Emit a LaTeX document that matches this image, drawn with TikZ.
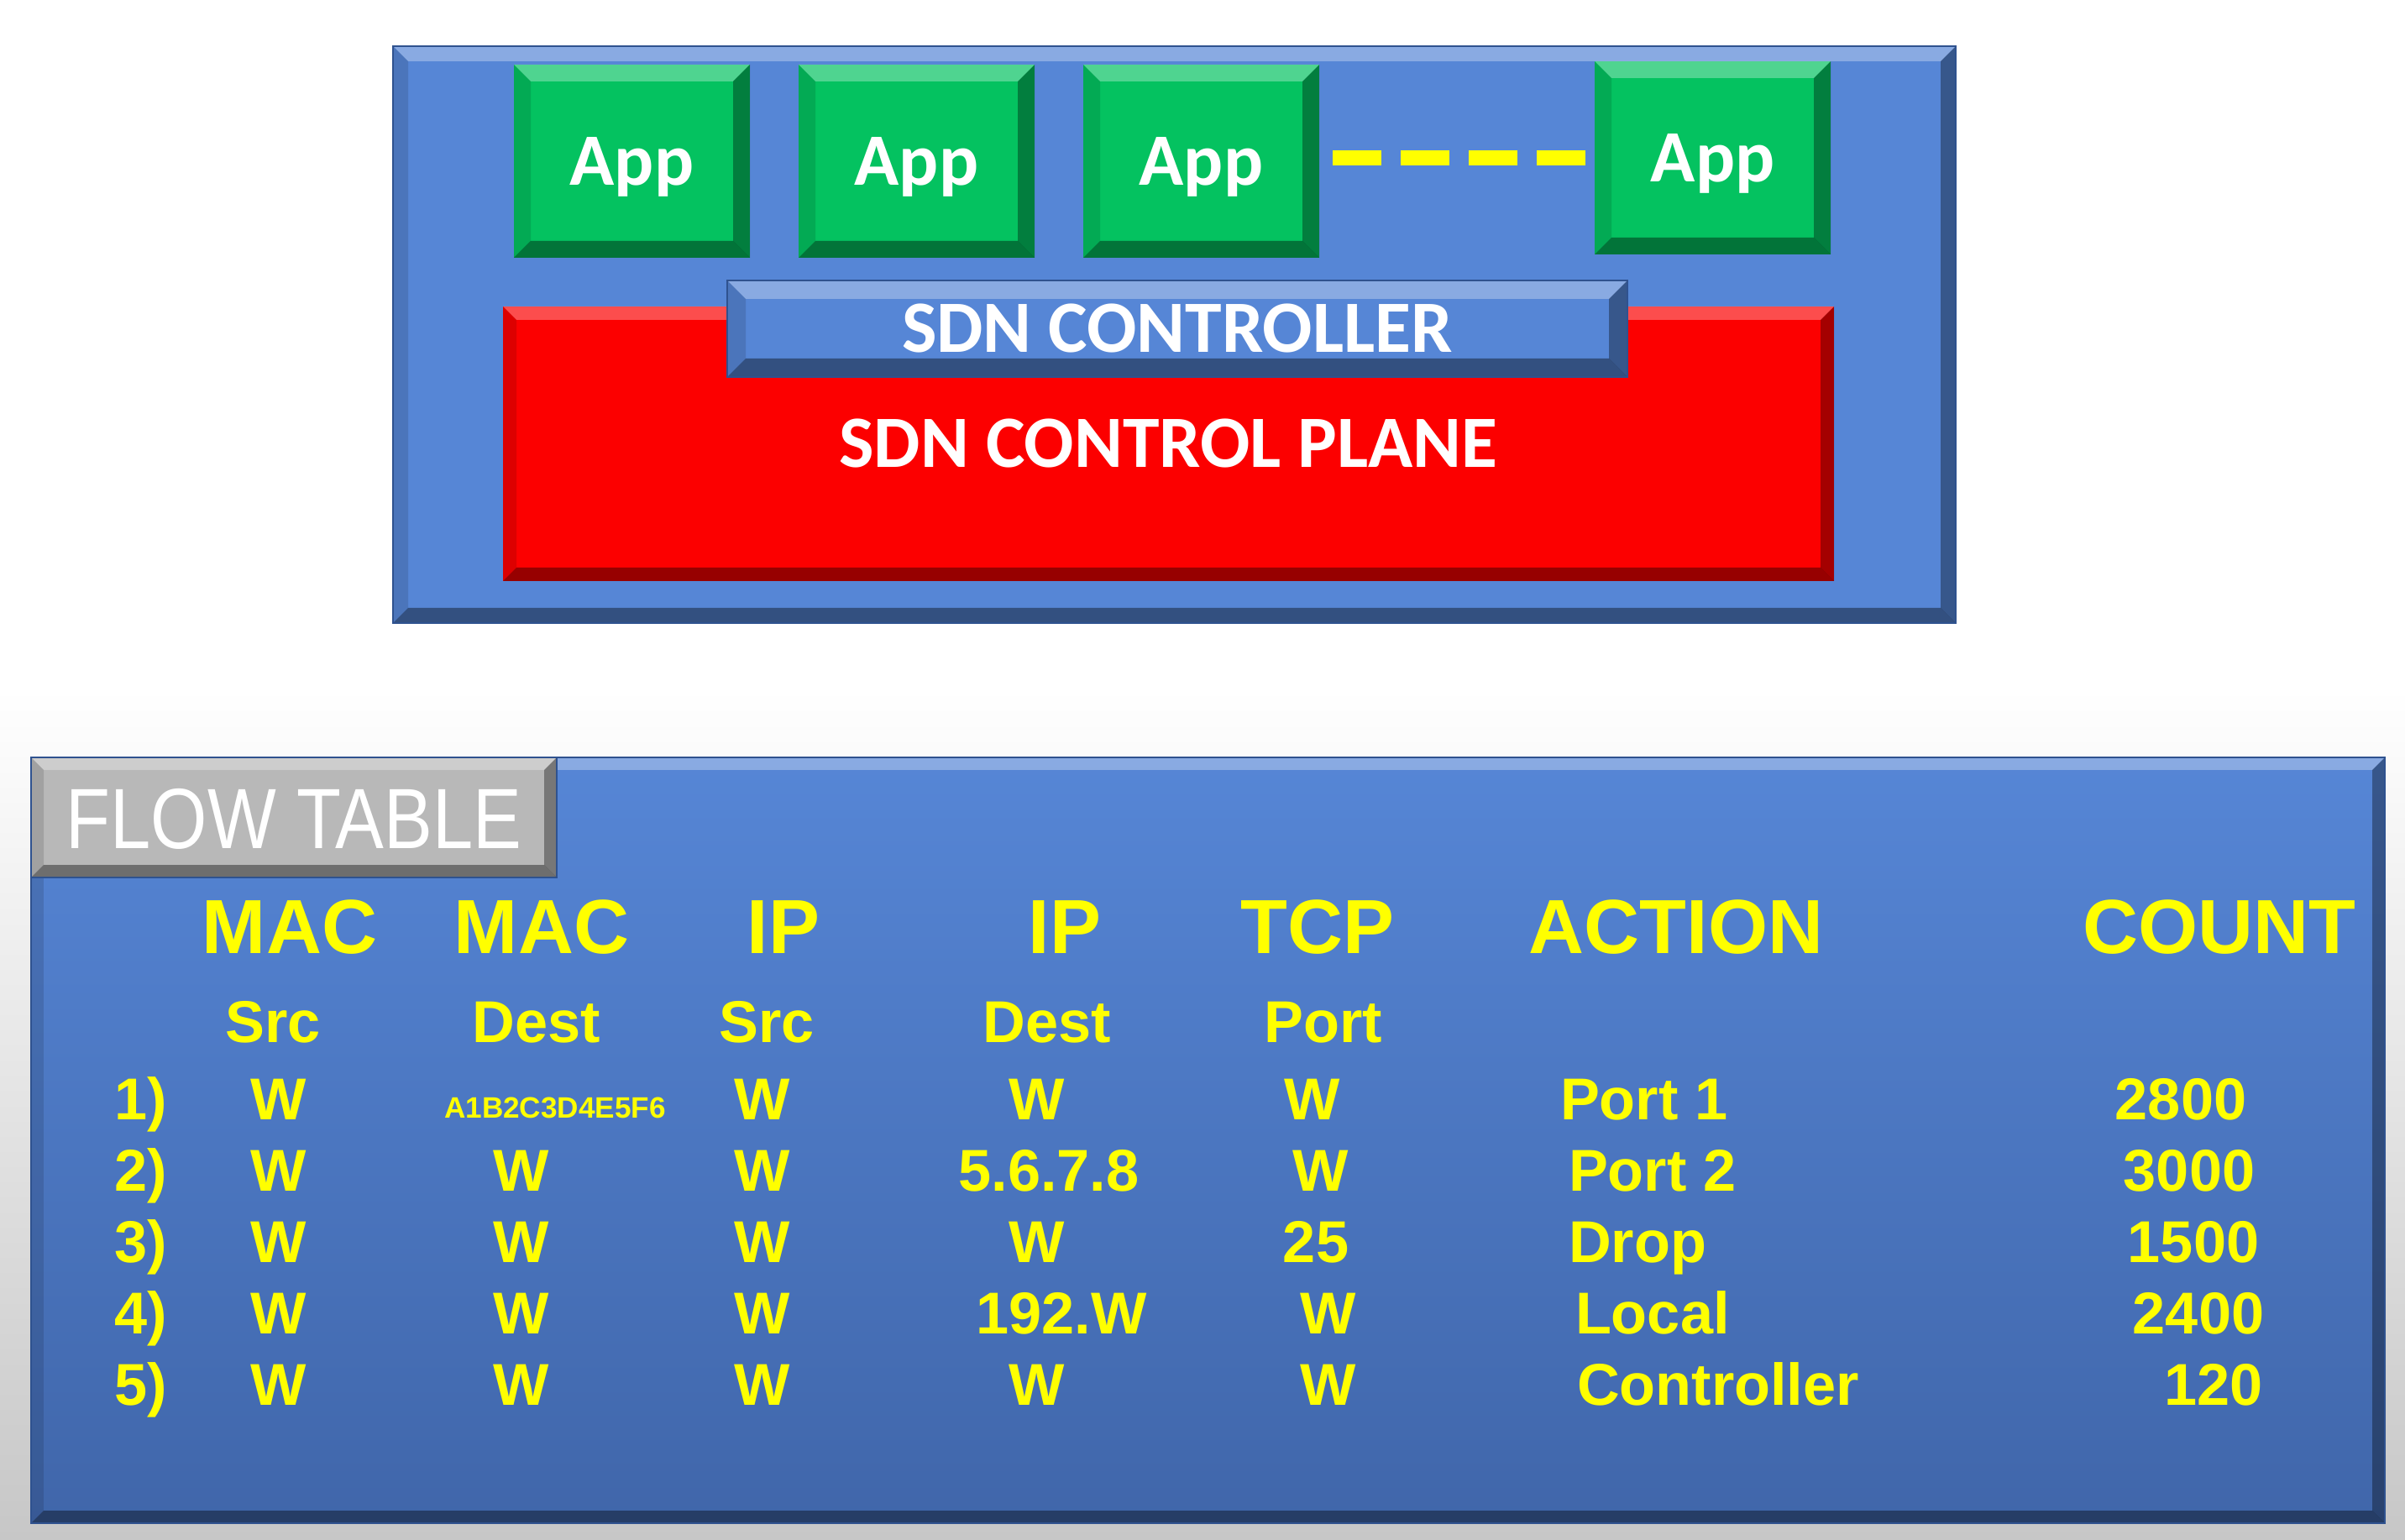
\documentclass[tikz,border=0pt]{standalone}
\usepackage{fontspec}
\setmainfont{Liberation Sans}
\newfontfamily\calibri{Carlito}
\usepackage{tikz}
\usetikzlibrary{positioning}

\definecolor{panelblue}{RGB}{86,134,214}
\definecolor{paneledge}{RGB}{47,82,143}
\definecolor{tabledark}{RGB}{64,102,170}
\definecolor{appgreen}{RGB}{4,194,96}
\definecolor{planered}{RGB}{252,0,0}
\definecolor{tabgray}{RGB}{184,184,184}
\definecolor{cellyellow}{RGB}{255,255,0}

% raised look: light top edge, dark right and bottom edges
\tikzset{bevel/.style={path picture={
  \path (path picture bounding box.north west) coordinate (bnw)
        (path picture bounding box.north east) coordinate (bne)
        (path picture bounding box.south west) coordinate (bsw)
        (path picture bounding box.south east) coordinate (bse);
  \fill[white,opacity=.3] (bnw) -- (bne) -- ++(-#1,-#1) -- ([shift={(#1,-#1)}]bnw) -- cycle;
  \fill[black,opacity=.35] (bne) -- (bse) -- ++(-#1,#1) -- ([shift={(-#1,-#1)}]bne) -- cycle;
  \fill[black,opacity=.4] (bse) -- (bsw) -- ++(#1,#1) -- ([shift={(-#1,#1)}]bse) -- cycle;
  \fill[black,opacity=.12] (bsw) -- (bnw) -- ++(#1,-#1) -- ([shift={(#1,#1)}]bsw) -- cycle;
}}}

\begin{document}
\begin{tikzpicture}[node distance=0.58cm, inner sep=0pt, outer sep=0pt]
  \tikzstyle{sdnlabel}=[text=white, font=\calibri\bfseries\fontsize{25}{30}\selectfont, text height=16.1pt, text depth=0pt]
  \tikzstyle{panel}=[rectangle, fill=panelblue, draw=paneledge, line width=0.8pt, bevel=0.18]
  \tikzstyle{app}=[rectangle, sdnlabel, fill=appgreen, minimum width=2.81cm, minimum height=2.3cm, bevel=0.2]
  \tikzstyle{plane}=[rectangle, sdnlabel, fill=planered, minimum width=15.85cm, minimum height=3.27cm, bevel=0.16]
  \tikzstyle{controller}=[rectangle, sdnlabel, fill=panelblue, draw=paneledge, line width=0.6pt, minimum width=10.72cm, minimum height=1.15cm, bevel=0.22]
  \tikzstyle{dashline}=[draw=cellyellow, line width=0.18cm, dash pattern=on 0.58cm off 0.23cm]
  \tikzstyle{tab}=[rectangle, fill=tabgray, draw=paneledge, line width=0.6pt, minimum width=6.26cm, minimum height=1.43cm, bevel=0.15, text=white, font=\fontsize{29}{32}\selectfont, text height=20.8pt, text depth=0pt]
  \tikzstyle{head}=[text=cellyellow, font=\bfseries\fontsize{26}{30}\selectfont, text height=18.6pt, text depth=0pt]
  \tikzstyle{cell}=[head, font=\bfseries\fontsize{20}{24}\selectfont, text height=14.3pt]
  \tikzstyle{tinycell}=[head, font=\bfseries\fontsize{10}{12}\selectfont, text height=7.2pt]

  \useasboundingbox (0,0) rectangle (28.64,-18.34);
  \fill[white] (0,0) rectangle (28.64,-8.2);
  \shade[top color=white, bottom color=black!22] (0,-8.2) rectangle (28.64,-18.34);

  % controller side
  \node[panel, minimum width=18.61cm, minimum height=6.87cm] (ctrlpanel) at (13.985,-3.985) {};
  \node[plane] (plane) at (13.915,-5.285) {SDN CONTROL PLANE};
  \node[controller] (ctrl) at (14.02,-3.915) {SDN CONTROLLER};
  \node[app] (app1) at (7.525,-1.92) {App};
  \node[app] (app2) [right=of app1] {App};
  \node[app] (app3) [right=of app2] {App};
  \node[app] (app4) [right=3.28cm of app3, yshift=0.04cm] {App};
  \draw[dashline, shorten <=0.16cm, shorten >=0.11cm] (app3.east |- app4.west) -- (app4.west);

  % flow table
  \node[rectangle, top color=panelblue, bottom color=tabledark, draw=paneledge, line width=0.8pt, minimum width=28.03cm, minimum height=9.12cm, bevel=0.15] (flowtab) at (14.385,-13.58) {};
  \node[tab] (tabname) at (3.50,-9.735) {\scalebox{0.85}[1]{FLOW TABLE}};

  \node[head] (hmacsrc) at (3.45,-11.03) {MAC};
  \node[head] (hmacdst) at (6.45,-11.03) {MAC};
  \node[head] (hipsrc) at (9.33,-11.03) {IP};
  \node[head] (hipdst) at (12.68,-11.03) {IP};
  \node[head] (htcp) at (15.69,-11.03) {TCP};
  \node[head] (haction) at (19.96,-11.03) {ACTION};
  \node[head] (hcount) at (26.43,-11.03) {COUNT};
  \node[cell] (smacsrc) at (3.25,-12.16) {Src};
  \node[cell] (smacdst) at (6.39,-12.16) {Dest};
  \node[cell] (sipsrc) at (9.13,-12.16) {Src};
  \node[cell] (sipdst) at (12.47,-12.16) {Dest};
  \node[cell] (stcp) at (15.76,-12.16) {Port};

  \foreach \r/\y in {1/13.08, 2/13.93, 3/14.78, 4/15.63, 5/16.48} {
    \node[cell] (num\r) at (1.68,-\y) {\r)};
    \node[cell] (macsrc\r) at (3.32,-\y) {W};
    \node[cell] (ipsrc\r) at (9.08,-\y) {W};
  }

  % row 1
  \node[tinycell] (macdst1) at (6.61,-13.19) {A1B2C3D4E5F6};
  \node[cell] (ipdst1) at (12.35,-13.08) {W};
  \node[cell] (tcp1) at (15.63,-13.08) {W};
  \node[cell, anchor=west] (act1) at (18.58,-13.08) {Port 1};
  \node[cell] (cnt1) at (25.97,-13.08) {2800};
  % row 2
  \node[cell] (macdst2) at (6.21,-13.93) {W};
  \node[cell] (ipdst2) at (12.49,-13.93) {5.6.7.8};
  \node[cell] (tcp2) at (15.73,-13.93) {W};
  \node[cell, anchor=west] (act2) at (18.68,-13.93) {Port 2};
  \node[cell] (cnt2) at (26.07,-13.93) {3000};
  % row 3
  \node[cell] (macdst3) at (6.21,-14.78) {W};
  \node[cell] (ipdst3) at (12.35,-14.78) {W};
  \node[cell] (tcp3) at (15.67,-14.78) {25};
  \node[cell, anchor=west] (act3) at (18.68,-14.78) {Drop};
  \node[cell] (cnt3) at (26.12,-14.78) {1500};
  % row 4
  \node[cell] (macdst4) at (6.21,-15.63) {W};
  \node[cell] (ipdst4) at (12.64,-15.63) {192.W};
  \node[cell] (tcp4) at (15.82,-15.63) {W};
  \node[cell, anchor=west] (act4) at (18.76,-15.63) {Local};
  \node[cell] (cnt4) at (26.18,-15.63) {2400};
  % row 5
  \node[cell] (macdst5) at (6.21,-16.48) {W};
  \node[cell] (ipdst5) at (12.35,-16.48) {W};
  \node[cell] (tcp5) at (15.82,-16.48) {W};
  \node[cell, anchor=west] (act5) at (18.78,-16.48) {Controller};
  \node[cell] (cnt5) at (26.36,-16.48) {120};
\end{tikzpicture}
\end{document}
